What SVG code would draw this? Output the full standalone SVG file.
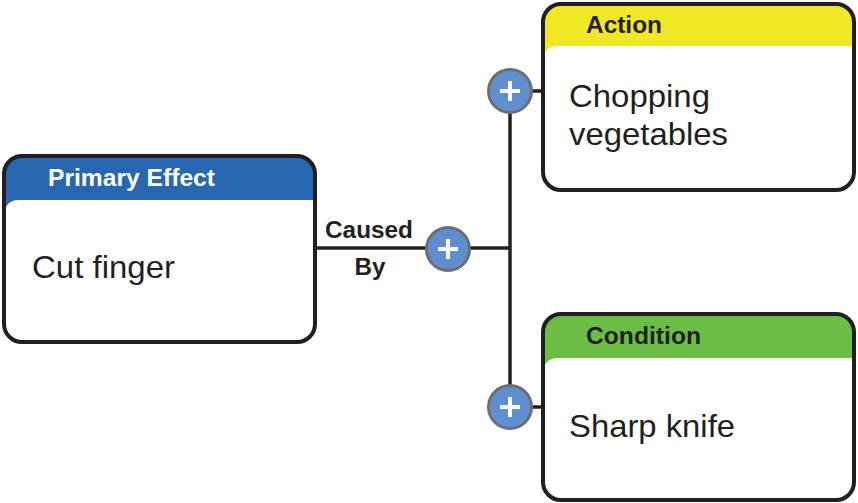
<svg xmlns="http://www.w3.org/2000/svg" width="858" height="503" viewBox="0 0 858 503">
  <style>
    .outline { fill: none; stroke: #231f20; stroke-width: 4; }
    .body { fill: #ffffff; }
    .hdr { font-family: "Liberation Sans", Arial, sans-serif; font-weight: bold; font-size: 23px; }
    .txt { font-family: "Liberation Sans", Arial, sans-serif; font-size: 32px; fill: #231f20; }
    .lbl { font-family: "Liberation Sans", Arial, sans-serif; font-weight: bold; font-size: 23px; fill: #231f20; text-anchor: middle; }
    .wire { stroke: #231f20; stroke-width: 3.5; fill: none; }
    .btn { fill: #5f8fd0; stroke: #6d6e70; stroke-width: 3; }
    .plus { stroke: #ffffff; stroke-width: 4; }
  </style>
  <defs>
    <clipPath id="card">
      <rect x="0" y="0" width="311" height="186" rx="18"/>
    </clipPath>
    <g id="plusbtn">
      <circle cx="0" cy="0" r="21.5" class="btn"/>
      <path d="M-10,0 H10 M0,-10 V10" class="plus"/>
    </g>
  </defs>

  <g id="connectors">
    <path class="wire" d="M316,248 H510"/>
    <path class="wire" d="M510,91 V407"/>
    <path class="wire" d="M510,91 H543"/>
    <path class="wire" d="M510,407 H543"/>
    <text class="lbl" x="369" y="238" textLength="88" lengthAdjust="spacingAndGlyphs">Caused</text>
    <text class="lbl" x="370" y="275" textLength="31" lengthAdjust="spacingAndGlyphs">By</text>
    <use href="#plusbtn" x="448" y="249"/>
    <use href="#plusbtn" x="510" y="91"/>
    <use href="#plusbtn" x="510" y="407"/>
  </g>

  <g id="primary-effect" transform="translate(4,156)">
    <g clip-path="url(#card)">
      <rect x="0" y="0" width="311" height="60" fill="#2767b1"/>
      <path class="body" d="M0,58 A14,14 0 0 1 14,44 H311 V186 H0 Z"/>
    </g>
    <rect class="outline" x="0" y="0" width="311" height="186" rx="18"/>
    <text class="hdr" x="44" y="30" fill="#ffffff" textLength="167" lengthAdjust="spacingAndGlyphs">Primary Effect</text>
    <text class="txt" x="28" y="122" textLength="143" lengthAdjust="spacingAndGlyphs">Cut finger</text>
  </g>

  <g id="action" transform="translate(543,4)">
    <g clip-path="url(#card)">
      <rect x="0" y="0" width="311" height="60" fill="#f0e824"/>
      <path class="body" d="M0,56 A14,14 0 0 1 14,42 H311 V186 H0 Z"/>
    </g>
    <rect class="outline" x="0" y="0" width="311" height="186" rx="18"/>
    <text class="hdr" x="43" y="29" fill="#231f20" textLength="76" lengthAdjust="spacingAndGlyphs">Action</text>
    <text class="txt" x="26" y="103" textLength="141" lengthAdjust="spacingAndGlyphs">Chopping</text>
    <text class="txt" x="26" y="141" textLength="159" lengthAdjust="spacingAndGlyphs">vegetables</text>
  </g>

  <g id="condition" transform="translate(543,314)">
    <g clip-path="url(#card)">
      <rect x="0" y="0" width="311" height="60" fill="#6bbd45"/>
      <path class="body" d="M0,58 A14,14 0 0 1 14,44 H311 V186 H0 Z"/>
    </g>
    <rect class="outline" x="0" y="0" width="311" height="186" rx="18"/>
    <text class="hdr" x="43" y="30" fill="#231f20" textLength="115" lengthAdjust="spacingAndGlyphs">Condition</text>
    <text class="txt" x="26" y="123" textLength="166" lengthAdjust="spacingAndGlyphs">Sharp knife</text>
  </g>
</svg>
